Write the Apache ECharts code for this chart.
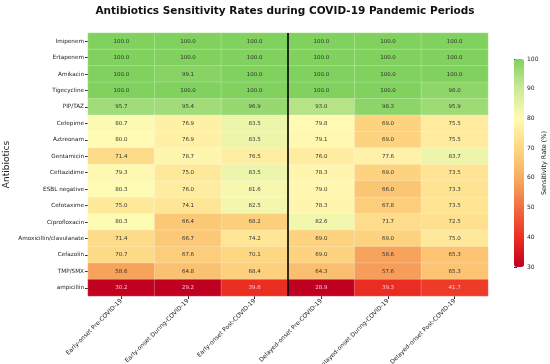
<!DOCTYPE html>
<html><head><meta charset="utf-8">
<script src="https://cdn.jsdelivr.net/npm/echarts@6/dist/echarts.min.js"></script>
<style>html,body{margin:0;padding:0;background:#fff}#c{width:550px;height:364px}</style>
</head><body><div id="c"></div>
<script>
const antibiotics = ["Imipenem","Ertapenem","Amikacin","Tigecycline","PIP/TAZ","Cefepime","Aztreonam","Gentamicin","Ceftazidime","ESBL negative","Cefotaxime","Ciprofloxacin","Amoxicillin/clavulanate","Cefazolin","TMP/SMX","ampicillin"];
const periods = ["Early-onset Pre-COVID-19","Early-onset During-COVID-19","Early-onset Post-COVID-19","Delayed-onset Pre-COVID-19","Delayed-onset During-COVID-19","Delayed-onset Post-COVID-19"];
const earlyPre    = [100,100,100,100,95.7,80.7,80.0,71.4,79.3,80.3,75.0,80.3,71.4,70.7,58.6,30.2];
const earlyDuring = [100,100,99.1,100,95.4,76.9,76.9,78.7,75.0,76.0,74.1,66.4,66.7,67.6,64.8,29.2];
const earlyPost   = [100,100,100,100,96.9,83.5,83.5,76.5,83.5,81.6,82.5,68.2,74.2,70.1,68.4,39.6];
const delayedPre    = [100,100,100,100,93.0,79.8,79.1,76.0,78.3,79.0,78.3,82.6,69.0,69.0,64.3,28.9];
const delayedDuring = [100,100,100,100,98.3,69.0,69.0,77.6,69.0,66.0,67.8,71.7,69.0,58.6,57.6,39.3];
const delayedPost   = [100,100,100,98.0,95.9,75.5,75.5,83.7,73.5,73.3,73.5,72.5,75.0,65.3,65.3,41.7];
const colorbarMin = 30, colorbarMax = 100, colorbarStep = 10;

const columns = [earlyPre, earlyDuring, earlyPost, delayedPre, delayedDuring, delayedPost];
const data = [];
columns.forEach((col, xi) => col.forEach((v, yi) => data.push({value:[xi, yi, v], label:{color: v < 45 ? '#ffc2d4' : '#333'}})));

const font = "DejaVu Sans";
const chart = echarts.init(document.getElementById('c'), null, {renderer:'canvas'});
chart.setOption({
  animation:false,
  backgroundColor:'#fff',
  title:{text:'Antibiotics Sensitivity Rates during COVID-19 Pandemic Periods', left:280, textAlign:'center', top:1,
    textStyle:{fontFamily:font, fontWeight:'bold', fontSize:10.5, color:'#111'}},
  grid:[
    {left:88, right:62, top:33, bottom:68, containLabel:false, outerBoundsMode:'none'},
    {left:514, width:10, top:59, height:208, containLabel:false, outerBoundsMode:'none'}
  ],
  xAxis:[
    {type:'category', data:periods, gridIndex:0, axisLine:{show:false},
     axisTick:{show:true, alignWithLabel:true, length:3, lineStyle:{color:'#333'}},
     axisLabel:{rotate:45, fontSize:6, fontFamily:font, color:'#222', margin:4, interval:0, hideOverlap:false},
     splitLine:{show:false}},
    {type:'value', gridIndex:0, min:0, max:6, show:false},
    {type:'value', gridIndex:1, show:false, min:0, max:1}
  ],
  yAxis:[
    {type:'category', data:antibiotics, gridIndex:0, inverse:true, axisLine:{show:false},
     axisTick:{show:true, alignWithLabel:true, length:3, lineStyle:{color:'#333'}},
     axisLabel:{fontSize:5.7, fontFamily:font, color:'#222', margin:4, interval:0},
     name:'Antibiotics', nameLocation:'middle', nameGap:77, nameRotate:90, nameMoveOverlap:false,
     nameTextStyle:{fontFamily:font, fontSize:9, color:'#222'}},
    {type:'value', gridIndex:0, min:0, max:16, show:false},
    {type:'value', gridIndex:1, min:colorbarMin, max:colorbarMax, interval:colorbarStep, position:'right',
     axisLine:{show:false}, axisTick:{show:true, length:3, lineStyle:{color:'#333'}},
     splitLine:{show:false},
     axisLabel:{fontSize:6, fontFamily:font, color:'#222', margin:3, showMinLabel:true, showMaxLabel:true},
     name:'Sensitivity Rate (%)', nameLocation:'middle', nameGap:17, nameRotate:90, nameMoveOverlap:false,
     nameTextStyle:{fontFamily:font, fontSize:6.5, color:'#222'}}
  ],
  visualMap:{
    type:'continuous', min:colorbarMin, max:colorbarMax, seriesIndex:0, calculable:false,
    orient:'vertical', left:514, top:59, itemWidth:10, itemHeight:208, padding:0,
    showLabel:false, hoverLink:false,
    inRange:{color:['#bf0020','#ec3022','#f06e42','#f8ac60','#fdd782','#fffbb4','#cbea97','#80d15e']}
  },
  series:[
    {type:'heatmap', xAxisIndex:0, yAxisIndex:0, data:data,
     itemStyle:{borderColor:'rgba(255,255,255,0.45)', borderWidth:0.5},
     label:{show:true, fontSize:5.5, fontFamily:font, color:'#333',
       formatter:p=>p.value[2].toFixed(1)}
    },
    {type:'line', xAxisIndex:1, yAxisIndex:1, data:[[3,0],[3,16]], symbol:'none',
     lineStyle:{color:'#000', width:1.6}, silent:true, z:5}
  ]
});
</script></body></html>
